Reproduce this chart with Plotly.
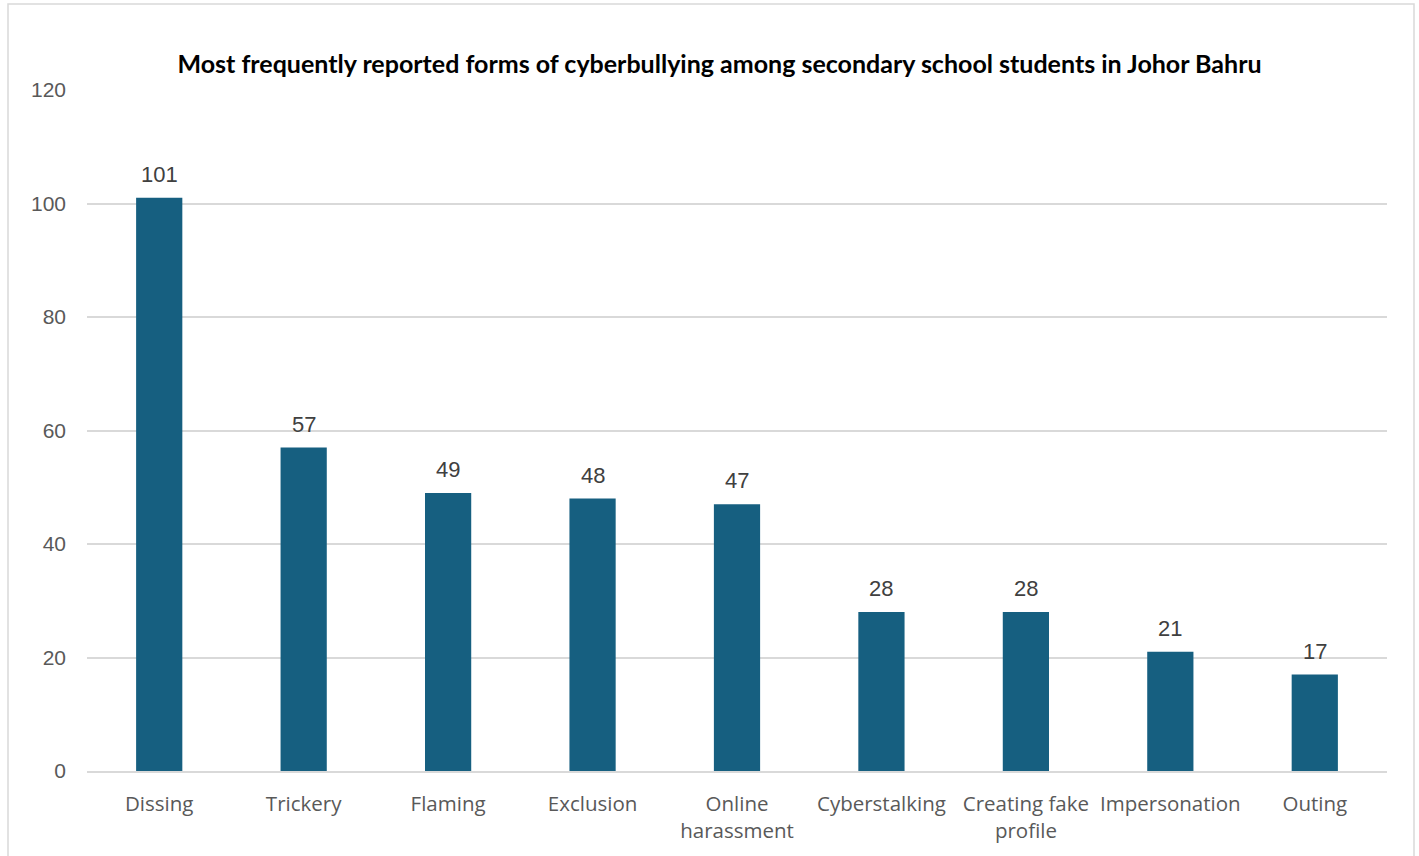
import plotly.graph_objects as go

categories = ["Dissing", "Trickery", "Flaming", "Exclusion", "Online<br>harassment",
              "Cyberstalking", "Creating fake<br>profile", "Impersonation", "Outing"]
values = [101, 57, 49, 48, 47, 28, 28, 21, 17]
y_ticks = [0, 20, 40, 60, 80, 100, 120]

W, H = 1419, 856
L, R, T, B = 87, 32, 90, 85
pw, ph = W - L - R, H - T - B

def px_x(x):
    return (x - L) / pw

def px_y(y):
    return (H - B - y) / ph

fig = go.Figure()
fig.add_trace(go.Bar(
    x=categories, y=values,
    marker=dict(color="#165F80", line=dict(width=0)),
))

for c, v in zip(categories, values):
    fig.add_annotation(
        x=c, y=v, text=str(v), showarrow=False, yanchor="bottom", yshift=9,
        font=dict(family="Liberation Sans, Arial", size=22, color="#404040"),
    )

fig.update_layout(
    width=W, height=H,
    margin=dict(l=L, r=R, t=T, b=B),
    paper_bgcolor="white", plot_bgcolor="white",
    bargap=0.68,
    showlegend=False,
    title=dict(
        text="<b>Most frequently reported forms of cyberbullying among secondary school students in Johor Bahru</b>",
        x=719.5 / W, xanchor="center", y=1 - 64 / H, yanchor="middle",
        font=dict(family="Lato, Open Sans", size=25, color="black"),
    ),
    xaxis=dict(
        showgrid=False, showline=True, linecolor="#D9D9D9", linewidth=1.5,
        ticks="", tickfont=dict(family="Open Sans", size=20.5, color="#595959"),
        ticklabelstandoff=14,
    ),
    yaxis=dict(
        range=[0, 120], tickvals=y_ticks, showgrid=True, gridcolor="#D9D9D9", gridwidth=1.5,
        zeroline=False, showline=False, ticks="",
        tickfont=dict(family="Liberation Sans, Arial", size=21, color="#595959"),
        ticklabelstandoff=20,
    ),
    shapes=[dict(
        type="rect", xref="paper", yref="paper",
        x0=px_x(8), x1=px_x(1414), y0=px_y(875), y1=px_y(4),
        line=dict(color="#D9D9D9", width=1.5), fillcolor="rgba(0,0,0,0)", layer="below",
    )],
)

fig.write_html("out.html")
